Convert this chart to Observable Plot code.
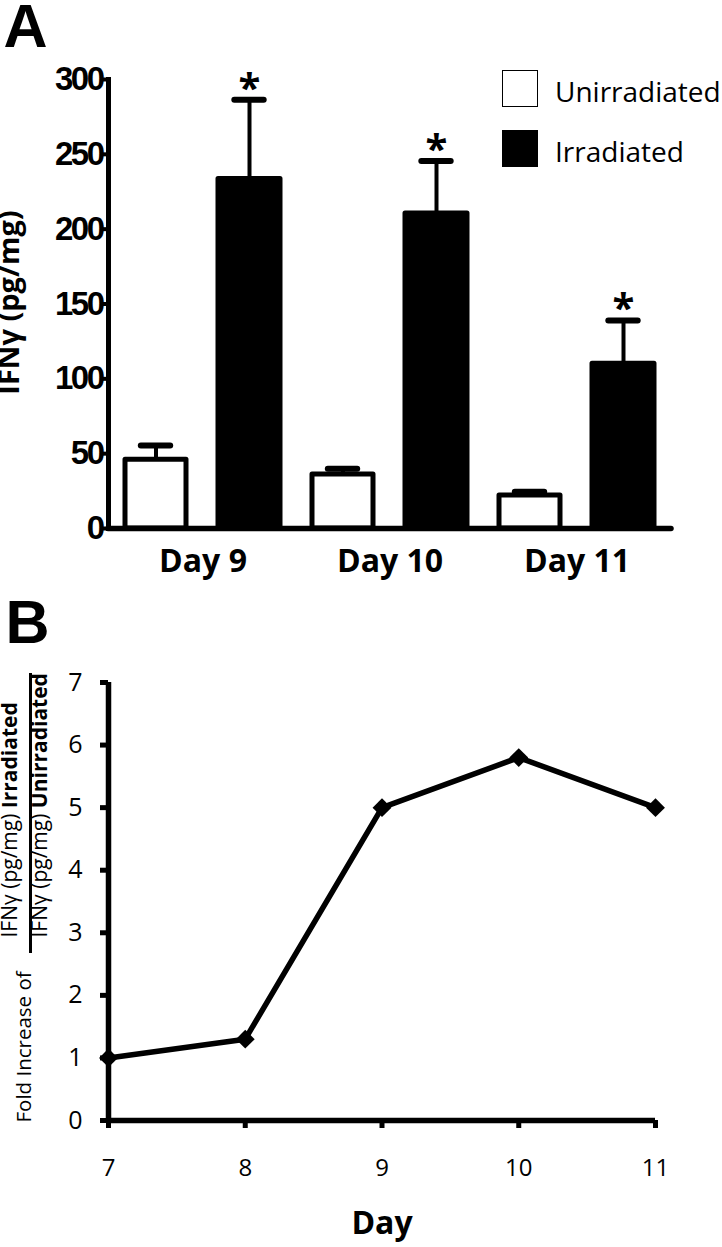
<!DOCTYPE html>
<html>
<head>
<meta charset="utf-8">
<script src="https://cdn.jsdelivr.net/npm/d3@7"></script>
<script src="https://cdn.jsdelivr.net/npm/@observablehq/plot@0.6"></script>
<style>
  html, body { margin: 0; padding: 0; background: #fff; }
  #root { position: relative; width: 722px; height: 1247px; overflow: hidden; background: #fff; }
  #panelA { position: absolute; left: 0; top: 0; }
  #panelB { position: absolute; left: 0; top: 600px; }
  #panelA g[aria-label="y-axis tick label"] text { letter-spacing: -2.5px; }
  .legbox { position: absolute; left: 502px; width: 36px; height: 37px; box-sizing: border-box; }
  .legtxt { position: absolute; left: 555px; font-family: "Open Sans", sans-serif; font-size: 28px; line-height: 28px; white-space: nowrap; color: #000; }
  #frac { position: absolute; left: 28.5px; top: 673px; width: 3.5px; height: 280px; background: #000; }
</style>
</head>
<body>
<div id="root">
  <div id="panelA"></div>
  <div id="panelB"></div>
  <div id="legend"></div>
  <div id="frac"></div>
</div>
<script>
// ---------- Panel A data ----------
const days = ["Day 9", "Day 10", "Day 11"];
const seriesNames = ["Unirradiated", "Irradiated"];
const unirradiated = [46, 36, 22];
const unirradiatedErr = [9.5, 4, 2.5];
const irradiated = [233.5, 210.5, 110];
const irradiatedErr = [53, 35, 29];
const significance = ["*", "*", "*"];
const yTicksA = [0, 50, 100, 150, 200, 250, 300];
const yLabelA = "IFNγ (pg/mg)";

// ---------- Panel B data ----------
const foldDays = [7, 8, 9, 10, 11];
const foldIncrease = [1.0, 1.3, 5.0, 5.8, 5.0];
const yTicksB = [0, 1, 2, 3, 4, 5, 6, 7];
const xTicksB = [7, 8, 9, 10, 11];
const numeratorText = "IFNγ (pg/mg) Irradiated";
const denominatorText = "IFNγ (pg/mg) Unirradiated";
const foldText = "Fold Increase of";
const xLabelB = "Day";

const rowsU = days.map((day, i) => ({day, value: unirradiated[i], err: unirradiatedErr[i]}));
const rowsI = days.map((day, i) => ({day, value: irradiated[i], err: irradiatedErr[i], sig: significance[i]}));
const foldRows = foldDays.map((day, i) => ({day, fold: foldIncrease[i]}));

const baseStyle = {background: "white", color: "black", overflow: "visible"};

const plotA = Plot.plot({
  width: 722, height: 600,
  marginLeft: 108, marginRight: 51, marginTop: 79, marginBottom: 72,
  x: {domain: days, padding: 0},
  y: {domain: [0, 300]},
  style: baseStyle,
  marks: [
    Plot.ruleX(rowsU, {x: "day", y1: "value", y2: d => d.value + d.err, dx: -47, strokeWidth: 4}),
    Plot.tickY(rowsU, {x: "day", y: d => d.value + d.err, insetLeft: 31.8, insetRight: 125.8, strokeWidth: 6, strokeLinecap: "round"}),
    Plot.ruleX(rowsI, {x: "day", y1: "value", y2: d => d.value + d.err, dx: 46.5, strokeWidth: 4}),
    Plot.tickY(rowsI, {x: "day", y: d => d.value + d.err, insetLeft: 125.3, insetRight: 32.3, strokeWidth: 6, strokeLinecap: "round"}),
    Plot.barY(rowsU, {x: "day", y: "value", fill: "white", stroke: "black", strokeWidth: 5, strokeLinejoin: "round", insetLeft: 16, insetRight: 110}),
    Plot.barY(rowsI, {x: "day", y: "value", fill: "black", stroke: "black", strokeWidth: 5, strokeLinejoin: "round", insetLeft: 109, insetRight: 16}),
    Plot.text(rowsI, {x: "day", y: d => d.value + d.err, text: "sig", dx: 46.5, dy: -11, fontSize: 40, fontFamily: "Open Sans", fontWeight: "bold"}),
    Plot.frame({anchor: "left", strokeWidth: 5}),
    Plot.ruleY([0], {strokeWidth: 5.5, strokeLinecap: "round"}),
    Plot.axisY({ticks: yTicksA, tickSize: 8, tickPadding: -2, strokeWidth: 4, fontSize: 33, fontFamily: "Liberation Sans", fontWeight: "bold", label: null}),
    Plot.axisX({tickSize: 0, tickPadding: 21, fontSize: 32, fontFamily: "Open Sans", fontWeight: "bold", label: null}),
    Plot.text([yLabelA], {frameAnchor: "bottom-left", textAnchor: "middle", rotate: -90, dx: -90, dy: -226, text: d => d, fontSize: 29, fontFamily: "Open Sans", fontWeight: "bold"}),
    Plot.text(["A"], {frameAnchor: "top-left", textAnchor: "start", lineAnchor: "bottom", dx: -105, dy: -33, text: d => d, fontSize: 61, fontFamily: "Liberation Sans", fontWeight: "bold"})
  ]
});
document.getElementById("panelA").append(plotA);

const plotB = Plot.plot({
  width: 722, height: 647,
  marginLeft: 108, marginRight: 67, marginTop: 82, marginBottom: 127,
  x: {domain: [7, 11]},
  y: {domain: [0, 7]},
  style: baseStyle,
  marks: [
    Plot.axisY({ticks: yTicksB, tickFormat: d => String(d), tickSize: 8, tickPadding: 18, strokeWidth: 5, fontSize: 25, fontFamily: "Open Sans", label: null}),
    Plot.axisX({ticks: xTicksB, tickFormat: d => String(d), tickSize: 8, tickPadding: 30, strokeWidth: 5, fontSize: 24, fontFamily: "Open Sans", label: null}),
    Plot.ruleX([foldDays[0]], {y1: yTicksB[0], y2: yTicksB[yTicksB.length - 1], strokeWidth: 5.5}),
    Plot.ruleY([0], {x1: foldDays[0], x2: foldDays[foldDays.length - 1], strokeWidth: 5.5}),
    Plot.line(foldRows, {x: "day", y: "fold", stroke: "black", strokeWidth: 5.5, strokeLinejoin: "round"}),
    Plot.dot(foldRows, {x: "day", y: "fold", symbol: "diamond2", r: 8.5, fill: "black"}),
    Plot.text([xLabelB], {frameAnchor: "bottom", lineAnchor: "bottom", dy: 113, text: d => d, fontSize: 32, fontWeight: "bold", fontFamily: "Open Sans"}),
    Plot.text([foldText], {frameAnchor: "bottom-left", textAnchor: "start", rotate: -90, dx: -78, dy: 2, text: d => d, fontSize: 20.5, fontFamily: "Open Sans"}),
    Plot.text([numeratorText], {frameAnchor: "bottom-left", textAnchor: "start", rotate: -90, dx: -92, dy: -183, text: d => d, fontSize: 21, fontFamily: "Open Sans"}),
    Plot.text([denominatorText], {frameAnchor: "bottom-left", textAnchor: "start", rotate: -90, dx: -62, dy: -183, text: d => d, fontSize: 21, fontFamily: "Open Sans"}),
    Plot.text(["B"], {frameAnchor: "top-left", textAnchor: "start", lineAnchor: "bottom", dx: -103, dy: -40, text: d => d, fontSize: 61, fontFamily: "Liberation Sans", fontWeight: "bold"})
  ]
});
document.getElementById("panelB").append(plotB);

// bold tails in fraction label
const NS = "http://www.w3.org/2000/svg";
function boldTail(svg, full, tail) {
  svg.querySelectorAll("text").forEach(t => {
    if (t.textContent === full) {
      const head = full.slice(0, full.length - tail.length);
      t.textContent = "";
      const s1 = document.createElementNS(NS, "tspan");
      s1.textContent = head;
      const s2 = document.createElementNS(NS, "tspan");
      s2.setAttribute("font-weight", "bold");
      s2.textContent = tail;
      t.append(s1, s2);
    }
  });
}
boldTail(plotB, numeratorText, "Irradiated");
boldTail(plotB, denominatorText, "Unirradiated");

// legend
const legend = document.getElementById("legend");
const legTops = [70, 130];
seriesNames.forEach((name, i) => {
  const box = document.createElement("div");
  box.className = "legbox";
  box.style.top = legTops[i] + "px";
  if (i === 0) { box.style.border = "1.5px solid #000"; box.style.background = "#fff"; }
  else { box.style.background = "#000"; }
  legend.append(box);
  const txt = document.createElement("div");
  txt.className = "legtxt";
  txt.style.top = (legTops[i] + 7) + "px";
  txt.textContent = name;
  legend.append(txt);
});
</script>
</body>
</html>
